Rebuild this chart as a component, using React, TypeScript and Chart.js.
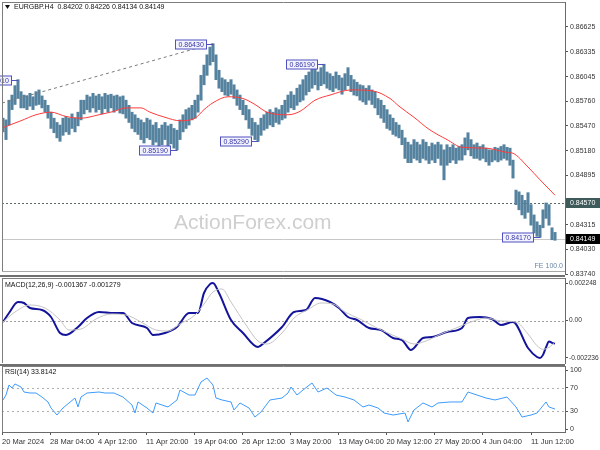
import React, { useEffect, useRef } from "react";
import { Chart, registerables } from "chart.js";
Chart.register(...registerables);

const FONT = "'Liberation Sans', Arial, sans-serif";

// ---------- price bars (each entry = two H4 bars), high / low ----------
const barHighs = [
  0.8556, 0.8554, 0.8577, 0.8583, 0.8594, 0.8601, 0.8587, 0.8583, 0.8582, 0.8585,
  0.8581, 0.8587, 0.8589, 0.8582, 0.8577, 0.8571, 0.8563, 0.8556, 0.8551, 0.8548,
  0.8556, 0.8558, 0.8556, 0.8561, 0.8556, 0.8563, 0.8577, 0.8577, 0.8583, 0.8581,
  0.8585, 0.8582, 0.8584, 0.8581, 0.8585, 0.8583, 0.8584, 0.8582, 0.8583, 0.8581,
  0.8582, 0.8577, 0.8571, 0.8563, 0.8560, 0.8556, 0.8554, 0.8551, 0.8556, 0.8554,
  0.8548, 0.8551, 0.8544, 0.8548, 0.8551, 0.8547, 0.8549, 0.8544, 0.8542, 0.8554,
  0.8560, 0.8566, 0.8568, 0.8571, 0.8577, 0.8583, 0.8606, 0.8618, 0.8630, 0.8639,
  0.8643, 0.8630, 0.8612, 0.8603, 0.8601, 0.8598, 0.8601, 0.8595, 0.8589, 0.8583,
  0.8577, 0.8571, 0.8566, 0.8556, 0.8551, 0.8548, 0.8556, 0.8560, 0.8563, 0.8566,
  0.8563, 0.8568, 0.8566, 0.8571, 0.8577, 0.8583, 0.8587, 0.8583, 0.8591, 0.8595,
  0.8601, 0.8606, 0.8610, 0.8615, 0.8617, 0.8610, 0.8615, 0.8619, 0.8610, 0.8608,
  0.8605, 0.8610, 0.8606, 0.8603, 0.8608, 0.8615, 0.8606, 0.8601, 0.8598, 0.8595,
  0.8594, 0.8591, 0.8594, 0.8589, 0.8587, 0.8579, 0.8577, 0.8571, 0.8566, 0.8560,
  0.8556, 0.8551, 0.8548, 0.8542, 0.8533, 0.8528, 0.8525, 0.8531, 0.8528, 0.8525,
  0.8531, 0.8528, 0.8523, 0.8527, 0.8525, 0.8528, 0.8525, 0.8519, 0.8525, 0.8522,
  0.8525, 0.8521, 0.8523, 0.8525, 0.8533, 0.8539, 0.8531, 0.8525, 0.8527, 0.8523,
  0.8525, 0.8521, 0.8519, 0.8519, 0.8522, 0.8521, 0.8523, 0.8525, 0.8522, 0.8521,
  0.8507, 0.8472, 0.8470, 0.8466, 0.8460, 0.8469, 0.8455, 0.8443, 0.8435, 0.8431,
  0.8449, 0.8457, 0.8455, 0.8428, 0.84226,
];
const barLows = [
  0.8540, 0.8531, 0.8548, 0.8566, 0.8572, 0.8579, 0.8568, 0.8568, 0.8566, 0.8570,
  0.8566, 0.8571, 0.8572, 0.8568, 0.8563, 0.8556, 0.8544, 0.8539, 0.8533, 0.8529,
  0.8536, 0.8540, 0.8537, 0.8544, 0.8540, 0.8547, 0.8554, 0.8561, 0.8566, 0.8563,
  0.8568, 0.8563, 0.8566, 0.8561, 0.8567, 0.8563, 0.8568, 0.8563, 0.8566, 0.8562,
  0.8561, 0.8556, 0.8551, 0.8544, 0.8540, 0.8537, 0.8531, 0.8527, 0.8533, 0.8531,
  0.8525, 0.8528, 0.8522, 0.8525, 0.8531, 0.8523, 0.8526, 0.8521, 0.8519, 0.8531,
  0.8540, 0.8544, 0.8548, 0.8554, 0.8556, 0.8563, 0.8577, 0.8595, 0.8606, 0.8618,
  0.8622, 0.8601, 0.8591, 0.8587, 0.8583, 0.8582, 0.8584, 0.8579, 0.8571, 0.8566,
  0.8560, 0.8554, 0.8544, 0.8536, 0.8531, 0.8529, 0.8536, 0.8542, 0.8544, 0.8548,
  0.8546, 0.8551, 0.8549, 0.8554, 0.8556, 0.8563, 0.8568, 0.8566, 0.8571, 0.8575,
  0.8577, 0.8583, 0.8587, 0.8591, 0.8595, 0.8589, 0.8594, 0.8596, 0.8591, 0.8589,
  0.8587, 0.8591, 0.8589, 0.8584, 0.8589, 0.8594, 0.8587, 0.8583, 0.8582, 0.8577,
  0.8575, 0.8572, 0.8577, 0.8572, 0.8568, 0.8560, 0.8556, 0.8551, 0.8544, 0.8542,
  0.8537, 0.8535, 0.8533, 0.8525, 0.8509, 0.8504, 0.8504, 0.8509, 0.8507, 0.8504,
  0.8509, 0.8507, 0.8503, 0.8507, 0.8504, 0.8509, 0.8501, 0.8484, 0.8501, 0.8504,
  0.8507, 0.8503, 0.8507, 0.8507, 0.8513, 0.8519, 0.8512, 0.8509, 0.8509, 0.8507,
  0.8509, 0.8505, 0.8501, 0.8505, 0.8507, 0.8505, 0.8507, 0.8509, 0.8507, 0.8501,
  0.8486, 0.8455, 0.8449, 0.8443, 0.8439, 0.8446, 0.8431, 0.8422, 0.8418, 0.8417,
  0.8428, 0.8439, 0.8431, 0.8414, 0.84134,
];

// ---------- moving average (red) ----------
const maIdx = [0, 6, 11, 16, 21, 26, 32, 37, 41, 46, 49, 54, 59, 64, 67, 70, 75, 80, 84, 88, 95, 99, 104, 109, 116, 123, 129, 132, 137, 142, 148, 153, 161, 168, 170, 175, 179, 184];
const maVals = [0.8545, 0.8553, 0.8560, 0.8563, 0.8558, 0.8556, 0.8560, 0.8564, 0.8568, 0.8568, 0.8563, 0.8557, 0.8553, 0.8556, 0.8566, 0.8574, 0.8581, 0.8579, 0.8572, 0.8563, 0.8560, 0.8564, 0.8577, 0.8583, 0.8589, 0.8588, 0.8579, 0.8570, 0.8557, 0.8543, 0.8531, 0.8522, 0.8521, 0.8516, 0.8515, 0.8499, 0.8484, 0.8466];

// ---------- MACD(12,26,9) ----------
const macdIdx = [0, 2, 5, 7, 9, 13, 16, 19, 21, 25, 28, 32, 37, 40, 43, 48, 50, 54, 58, 62, 65, 67, 69, 70, 72, 76, 80, 85, 87, 93, 97, 101, 104, 109, 112, 115, 118, 122, 126, 130, 133, 136, 140, 143, 148, 153, 155, 159, 163, 166, 170, 175, 178, 179, 180, 181, 182, 183, 184];
const macdVals = [-0.000084, 0.000454, 0.001112, 0.001052, 0.000753, 0.000633, 0.000215, -0.000742, -0.000862, -0.000383, 0.000155, 0.000514, 0.000454, 0.000454, -0.000144, -0.000443, -0.000862, -0.000742, -0.000383, 0.000454, 0.000454, 0.00165, 0.00218, 0.002248, 0.00165, 0.000035, -0.000742, -0.001579, -0.00134, -0.000383, 0.000514, 0.000633, 0.001351, 0.001112, 0.000753, 0.000215, 0.000035, -0.000443, -0.000563, -0.001041, -0.001161, -0.001759, -0.001041, -0.000981, -0.000682, -0.000443, 0.000155, 0.000215, 0.000095, -0.000264, -0.000084, -0.001639, -0.002177, -0.002236, -0.00205, -0.0016, -0.00125, -0.00133, -0.001367];
const sigIdx = [0, 4, 9, 14, 19, 22, 26, 31, 36, 41, 46, 51, 55, 59, 64, 67, 70, 73, 76, 81, 85, 88, 93, 97, 102, 106, 110, 114, 119, 124, 129, 133, 137, 141, 146, 151, 156, 161, 166, 171, 175, 178, 180, 182, 184];
const sigVals = [-0.000084, 0.000514, 0.000932, 0.000753, 0.000035, -0.000563, -0.000503, 0.000095, 0.000394, 0.000334, -0.000084, -0.000563, -0.000622, -0.000204, 0.000334, 0.000992, 0.00171, 0.001889, 0.001112, -0.000264, -0.00122, -0.0014, -0.000742, 0.000155, 0.000693, 0.001052, 0.000992, 0.000514, 0.000095, -0.000383, -0.000802, -0.001101, -0.0014, -0.00122, -0.000802, -0.000443, -0.000084, 0.000155, -0.000024, -0.000084, -0.000802, -0.0015, -0.00172, -0.0016, -0.001279];

// ---------- RSI(14) ----------
const rsiIdx = [0, 1, 2, 3, 4, 6, 7, 9, 11, 13, 15, 16, 18, 20, 22, 24, 25, 26, 28, 32, 34, 37, 40, 43, 44, 45, 48, 50, 51, 53, 55, 58, 59, 62, 64, 66, 68, 70, 71, 73, 76, 77, 79, 82, 84, 86, 89, 93, 95, 96, 98, 100, 103, 105, 108, 111, 114, 117, 120, 122, 125, 127, 130, 134, 135, 137, 140, 143, 145, 149, 153, 155, 158, 161, 164, 168, 171, 173, 176, 178, 181, 182, 184];
const rsiVals = [49.2, 57.6, 74.6, 69.5, 76.3, 71.2, 62.7, 61.0, 61.0, 54.2, 45.8, 35.6, 23.7, 35.6, 44.1, 52.5, 37.3, 54.2, 61.0, 62.7, 61.0, 61.0, 54.2, 40.7, 27.1, 45.8, 35.6, 27.1, 44.1, 40.7, 37.3, 49.2, 66.1, 57.6, 57.6, 79.7, 86.4, 74.6, 52.5, 49.2, 45.8, 32.2, 44.1, 35.6, 20.3, 28.8, 49.2, 52.5, 61.0, 71.2, 57.6, 66.1, 78.0, 62.7, 69.5, 57.6, 54.2, 49.2, 37.3, 40.7, 35.6, 27.1, 23.7, 27.1, 11.9, 32.2, 44.1, 37.3, 44.1, 45.8, 45.8, 62.7, 57.6, 52.5, 49.2, 54.2, 37.3, 20.3, 23.7, 27.1, 45.8, 37.3, 33.8142];

// ---------- axes / labels ----------
const priceTicks = [0.86625, 0.86335, 0.86045, 0.8576, 0.8547, 0.8518, 0.84895, 0.84315, 0.8403, 0.8374];
const macdTicks = [0.002248, 0, -0.002236];
const rsiTicks = [100, 70, 30, 0];
const rsiLevels = [70, 30];
const timeLabels = ["20 Mar 2024", "28 Mar 04:00", "4 Apr 12:00", "11 Apr 20:00", "19 Apr 04:00", "26 Apr 12:00", "3 May 20:00", "13 May 04:00", "20 May 12:00", "27 May 20:00", "4 Jun 04:00", "11 Jun 12:00"];
const timeLabelBars = [-0.3, 15.7, 31.7, 47.7, 63.7, 79.7, 95.7, 111.8, 127.8, 143.9, 159.9, 176.0];

const swingBars = [5, 70, 58, 85, 107, 179];
const swingPrices = [0.8601, 0.8643, 0.8519, 0.8529, 0.8619, 0.8417];
const feLineBars = [-0.333, 70];
const feLinePrices = [0.85737, 0.8643];
const feLevel = 0.8457;
const lastClose = 0.84149;

const TITLE = "EURGBP.H4  0.84202 0.84226 0.84134 0.84149";
const MACD_TITLE = "MACD(12,26,9) -0.001367 -0.001279";
const RSI_TITLE = "RSI(14) 33.8142";
const WATERMARK = "ActionForex.com";
const FE_TEXT = "FE 100.0";

const X_MIN = -0.333;
const X_MAX = 187.333;

const xy = (idx: number[], vals: number[]) => idx.map((x, k) => ({ x, y: vals[k] }));

const fitRightAxis = (s: any) => {
  s.width = 35;
  s.paddingTop = 0;
  s.paddingBottom = 0;
};

const rightAxisBase = (size: number) => ({
  position: "right" as const,
  grid: { drawOnChartArea: false, drawTicks: true, tickLength: 3, tickColor: "#555", color: "#555" },
  border: { display: true, color: "#6a6a6a" },
  ticks: { font: { family: FONT, size }, color: "#333", padding: 2, autoSkip: false },
  afterFit: fitRightAxis,
});

const hiddenX = { type: "linear" as const, min: X_MIN, max: X_MAX, display: false, offset: false };

const drawFrame = (ctx: CanvasRenderingContext2D, a: any, bottomY: number) => {
  ctx.save();
  ctx.strokeStyle = "#7d7d7d";
  ctx.lineWidth = 1;
  ctx.beginPath();
  ctx.moveTo(a.left + 0.5, a.top);
  ctx.lineTo(a.left + 0.5, bottomY);
  ctx.moveTo(a.left, a.top + 0.5);
  ctx.lineTo(a.right, a.top + 0.5);
  ctx.stroke();
  ctx.restore();
};

const mainPlugin = {
  id: "mainDecor",
  beforeDatasetsDraw(chart: any) {
    const { ctx, chartArea: a, scales } = chart;
    const y = scales.y;
    ctx.save();
    ctx.font = `21px ${FONT}`;
    ctx.fillStyle = "#cfcfcf";
    ctx.textAlign = "left";
    ctx.textBaseline = "alphabetic";
    ctx.fillText(WATERMARK, 174, 229);
    const yc = Math.round(y.getPixelForValue(lastClose)) + 0.5;
    ctx.strokeStyle = "#c8c8c8";
    ctx.lineWidth = 1;
    ctx.beginPath();
    ctx.moveTo(a.left, yc);
    ctx.lineTo(a.right, yc);
    ctx.stroke();
    const yf = Math.round(y.getPixelForValue(feLevel)) + 0.5;
    ctx.strokeStyle = "#5c6c6c";
    ctx.setLineDash([2, 2]);
    ctx.beginPath();
    ctx.moveTo(a.left, yf);
    ctx.lineTo(a.right, yf);
    ctx.stroke();
    ctx.restore();
  },
  afterDatasetsDraw(chart: any) {
    const { ctx, scales } = chart;
    const x = scales.x;
    const y = scales.y;
    ctx.save();
    ctx.font = `7px ${FONT}`;
    ctx.lineWidth = 1;
    swingBars.forEach((b, k) => {
      const px = Math.round(x.getPixelForValue(b)) + 0.5;
      const py = Math.round(y.getPixelForValue(swingPrices[k])) + 0.5;
      const text = swingPrices[k].toFixed(5);
      const w = Math.round(ctx.measureText(text).width + 6);
      const right = px - 7;
      const left = right - w;
      ctx.fillStyle = "#f3f3ff";
      ctx.fillRect(left, py - 4.5, w, 9);
      ctx.strokeStyle = "#5050c0";
      ctx.strokeRect(left, py - 4.5, w, 9);
      ctx.beginPath();
      ctx.moveTo(right, py);
      ctx.lineTo(px, py);
      ctx.stroke();
      ctx.fillStyle = "#3535a5";
      ctx.textAlign = "left";
      ctx.textBaseline = "middle";
      ctx.fillText(text, left + 3, py + 0.5);
    });
    ctx.restore();
  },
  afterDraw(chart: any) {
    const { ctx, chartArea: a, scales } = chart;
    const y = scales.y;
    drawFrame(ctx, a, 271);
    ctx.save();
    ctx.strokeStyle = "#a8a8a8";
    ctx.beginPath();
    ctx.moveTo(a.left, 271.5);
    ctx.lineTo(a.right, 271.5);
    ctx.stroke();
    ctx.fillStyle = "#707070";
    ctx.fillRect(0, 275, a.right, 2);
    // title
    ctx.fillStyle = "#111";
    ctx.beginPath();
    ctx.moveTo(5, 5);
    ctx.lineTo(10, 5);
    ctx.lineTo(7.5, 9);
    ctx.closePath();
    ctx.fill();
    ctx.font = `7px ${FONT}`;
    ctx.textAlign = "left";
    ctx.textBaseline = "middle";
    ctx.fillText(TITLE, 14, 7.5);
    // FE text
    ctx.fillStyle = "#6a86a6";
    ctx.textAlign = "right";
    ctx.fillText(FE_TEXT, a.right - 2, 266);
    // axis tags
    const tag = (price: number, bg: string) => {
      const py = Math.round(y.getPixelForValue(price));
      ctx.fillStyle = bg;
      ctx.fillRect(a.right + 1, py - 5, 35, 10);
      ctx.fillStyle = "#ffffff";
      ctx.textAlign = "left";
      ctx.fillText(price.toFixed(5), a.right + 5, py + 0.5);
    };
    tag(feLevel, "#3f5a5a");
    tag(lastClose, "#000000");
    ctx.restore();
  },
};

const macdPlugin = {
  id: "macdDecor",
  beforeDatasetsDraw(chart: any) {
    const { ctx, chartArea: a, scales } = chart;
    const yz = Math.round(scales.y.getPixelForValue(0)) + 0.5;
    ctx.save();
    ctx.strokeStyle = "#a0a0a0";
    ctx.setLineDash([2, 2]);
    ctx.beginPath();
    ctx.moveTo(a.left, yz);
    ctx.lineTo(a.right, yz);
    ctx.stroke();
    ctx.restore();
  },
  afterDraw(chart: any) {
    const { ctx, chartArea: a } = chart;
    drawFrame(ctx, a, a.bottom);
    ctx.save();
    ctx.fillStyle = "#707070";
    ctx.fillRect(0, a.bottom + 1, a.right, 2);
    ctx.fillStyle = "#111";
    ctx.font = `7px ${FONT}`;
    ctx.textAlign = "left";
    ctx.textBaseline = "middle";
    ctx.fillText(MACD_TITLE, 5, a.top + 7);
    ctx.restore();
  },
};

const rsiPlugin = {
  id: "rsiDecor",
  beforeDatasetsDraw(chart: any) {
    const { ctx, chartArea: a, scales } = chart;
    ctx.save();
    ctx.strokeStyle = "#b0b0b0";
    ctx.setLineDash([2, 3]);
    rsiLevels.forEach((lv) => {
      const py = Math.round(scales.y.getPixelForValue(lv)) + 0.5;
      ctx.beginPath();
      ctx.moveTo(a.left, py);
      ctx.lineTo(a.right, py);
      ctx.stroke();
    });
    ctx.restore();
  },
  afterDraw(chart: any) {
    const { ctx, chartArea: a } = chart;
    drawFrame(ctx, a, a.bottom);
    ctx.save();
    ctx.fillStyle = "#111";
    ctx.font = `7px ${FONT}`;
    ctx.textAlign = "left";
    ctx.textBaseline = "middle";
    ctx.fillText(RSI_TITLE, 5, a.top + 6);
    ctx.restore();
  },
};

const common = {
  animation: false as const,
  responsive: false,
  maintainAspectRatio: false,
  devicePixelRatio: 1,
  events: [] as any[],
  plugins: { legend: { display: false }, tooltip: { enabled: false } },
};

export default function App() {
  const mainRef = useRef<HTMLCanvasElement>(null);
  const macdRef = useRef<HTMLCanvasElement>(null);
  const rsiRef = useRef<HTMLCanvasElement>(null);

  useEffect(() => {
    document.body.style.margin = "0";

    const mainChart = new Chart(mainRef.current as HTMLCanvasElement, {
      type: "bar",
      data: {
        datasets: [
          {
            type: "bar",
            data: barHighs.map((h, i) => ({ x: i, y: [barLows[i], h] })) as any,
            backgroundColor: "#55829f",
            barThickness: 2.4,
            order: 3,
          },
          {
            type: "line",
            data: xy(maIdx, maVals),
            borderColor: "#ff3b3b",
            borderWidth: 1,
            pointRadius: 0,
            cubicInterpolationMode: "monotone",
            order: 1,
          },
          {
            type: "line",
            data: xy(feLineBars, feLinePrices),
            borderColor: "#7a7a7a",
            borderWidth: 1,
            borderDash: [3, 3],
            pointRadius: 0,
            order: 2,
          },
        ] as any,
      },
      options: {
        ...common,
        layout: { padding: { left: 2, top: 2, right: 0, bottom: 6 } },
        scales: {
          x: hiddenX,
          y: {
            ...rightAxisBase(7),
            type: "linear",
            min: 0.8374,
            max: 0.86917,
            afterBuildTicks: (s: any) => {
              s.ticks = priceTicks.map((v) => ({ value: v }));
            },
            ticks: { ...rightAxisBase(7).ticks, callback: (v: any) => Number(v).toFixed(5) },
          },
        },
      } as any,
      plugins: [mainPlugin],
    });

    const macdChart = new Chart(macdRef.current as HTMLCanvasElement, {
      type: "line",
      data: {
        datasets: [
          {
            data: xy(sigIdx, sigVals),
            borderColor: "#c4c4c4",
            borderWidth: 1,
            pointRadius: 0,
            cubicInterpolationMode: "monotone",
          },
          {
            data: xy(macdIdx, macdVals),
            borderColor: "#14149a",
            borderWidth: 2,
            pointRadius: 0,
            cubicInterpolationMode: "monotone",
          },
        ],
      },
      options: {
        ...common,
        layout: { padding: { left: 2, top: 2, right: 0, bottom: 3 } },
        scales: {
          x: hiddenX,
          y: {
            ...rightAxisBase(6.6),
            type: "linear",
            min: -0.002536,
            max: 0.002547,
            afterBuildTicks: (s: any) => {
              s.ticks = macdTicks.map((v) => ({ value: v }));
            },
            ticks: { ...rightAxisBase(6.6).ticks, padding: 1, callback: (v: any) => (Number(v) === 0 ? "0.00" : Number(v).toFixed(6)) },
          },
        },
      } as any,
      plugins: [macdPlugin],
    });

    const rsiChart = new Chart(rsiRef.current as HTMLCanvasElement, {
      type: "line",
      data: {
        datasets: [
          {
            data: xy(rsiIdx, rsiVals),
            borderColor: "#3d9bff",
            borderWidth: 1,
            pointRadius: 0,
            tension: 0,
          },
        ],
      },
      options: {
        ...common,
        layout: { padding: { left: 2, top: 4, right: 0, bottom: 0 } },
        scales: {
          x: {
            type: "linear",
            min: X_MIN,
            max: X_MAX,
            offset: false,
            afterBuildTicks: (s: any) => {
              s.ticks = timeLabelBars.map((v) => ({ value: v }));
            },
            afterFit: (s: any) => {
              s.height = 18;
              s.paddingLeft = 0;
              s.paddingRight = 0;
            },
            grid: { drawOnChartArea: false, drawTicks: true, tickLength: 3, tickColor: "#555", color: "#555" },
            border: { display: true, color: "#6a6a6a" },
            ticks: {
              font: { family: FONT, size: 7.5 },
              color: "#333",
              padding: 2,
              align: "start",
              maxRotation: 0,
              autoSkip: false,
              callback: (_v: any, i: number) => timeLabels[i],
            },
          },
          y: {
            ...rightAxisBase(7),
            type: "linear",
            min: -5.08,
            max: 106.78,
            afterBuildTicks: (s: any) => {
              s.ticks = rsiTicks.map((v) => ({ value: v }));
            },
            ticks: { ...rightAxisBase(7).ticks, callback: (v: any) => String(v) },
          },
        },
      } as any,
      plugins: [rsiPlugin],
    });

    return () => {
      mainChart.destroy();
      macdChart.destroy();
      rsiChart.destroy();
    };
  }, []);

  const cs = (top: number, h: number): React.CSSProperties => ({
    position: "absolute",
    left: 0,
    top,
    width: 600,
    height: h,
    display: "block",
  });

  return (
    <div style={{ position: "relative", width: 600, height: 450, background: "#ffffff", overflow: "hidden" }}>
      <canvas ref={mainRef} width={600} height={280} style={cs(0, 280)} />
      <canvas ref={macdRef} width={600} height={90} style={cs(276, 90)} />
      <canvas ref={rsiRef} width={600} height={88} style={cs(362, 88)} />
    </div>
  );
}
